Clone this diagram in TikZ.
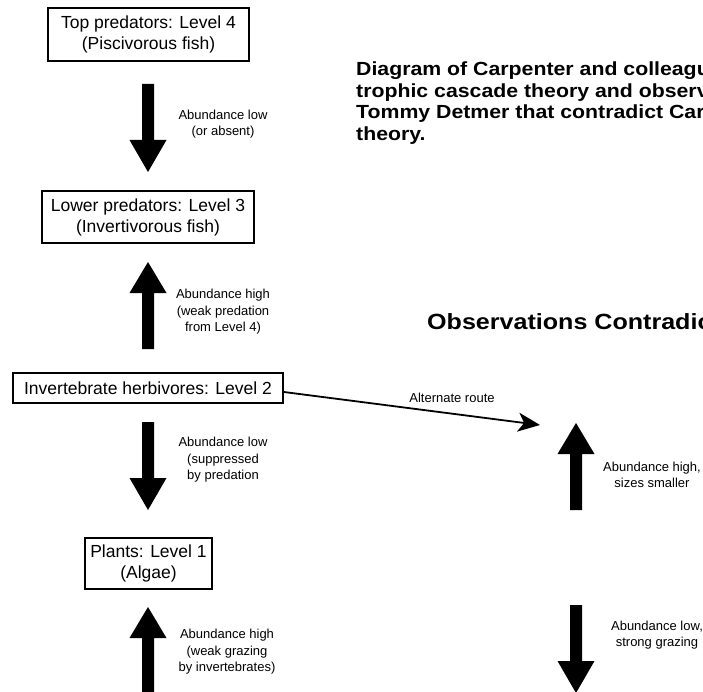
\documentclass[tikz,border=0pt]{standalone}
\usepackage{fontspec}
\setmainfont{Liberation Sans}
\newfontfamily\titlefont{Liberation Sans}[FakeStretch=1.12]
\newfontfamily\headfont{Liberation Sans}[FakeStretch=1.14]
\usetikzlibrary{arrows.meta}
\tikzset{
  levelbox/.style={draw, line width=1.7pt, inner sep=0pt, align=center,
    font=\fontsize{17.5}{21}\selectfont},
  lbl/.style={align=center, inner sep=0pt, font=\fontsize{13}{16.5}\selectfont},
  titletext/.style={align=left, inner sep=0pt, anchor=north west,
    font=\titlefont\bfseries\fontsize{19}{21.4}\selectfont},
  headtext/.style={inner sep=0pt, anchor=base west,
    font=\headfont\bfseries\fontsize{22}{26}\selectfont},
  routeline/.style={line width=1.8pt, -{Stealth[length=22pt,width=19pt,inset=6pt]}},
  blockarrow/.style={fill=black, draw=none},
}
% #1 centre x, #2 shaft end y, #3 tip y (y grows downward)
\newcommand{\blockdownarrow}[3]{%
  \fill[blockarrow] (#1-6,#2) -- (#1+6,#2) -- (#1+6,#3-32) -- (#1+18.5,#3-32)
    -- (#1,#3) -- (#1-18.5,#3-32) -- (#1-6,#3-32) -- cycle;}
\newcommand{\blockuparrow}[3]{%
  \fill[blockarrow] (#1-6,#2) -- (#1+6,#2) -- (#1+6,#3+31) -- (#1+18.5,#3+31)
    -- (#1,#3) -- (#1-18.5,#3+31) -- (#1-6,#3+31) -- cycle;}
\begin{document}
\begin{tikzpicture}[x=1pt, y=-1pt]
  \useasboundingbox (0,0) rectangle (703,692);
  \clip (0,0) rectangle (703,692);
  \fill[white] (0,0) rectangle (703,692);

  % level boxes
  \node[levelbox, minimum width=201pt, minimum height=53pt] (b4) at (148.5,34.5)
    {Top predators: Level 4\\(Piscivorous fish)};
  \node[levelbox, minimum width=212pt, minimum height=52pt] (b3) at (148,217)
    {Lower predators: Level 3\\(Invertivorous fish)};
  \node[levelbox, minimum width=270pt, minimum height=30pt] (b2) at (148,388)
    {Invertebrate herbivores: Level 2};
  \node[levelbox, minimum width=127pt, minimum height=51pt] (b1) at (148.5,563.5)
    {Plants: Level 1\\(Algae)};

  % block arrows (left column)
  \blockdownarrow{148}{84}{172}
  \blockuparrow{148}{349}{262}
  \blockdownarrow{148}{422}{510}
  \blockuparrow{148}{700}{607}

  % labels (left column)
  \node[lbl] (l1) at (223,124) {Abundance low\\(or absent)};
  \node[lbl] (l2) at (223,312) {Abundance high\\(weak predation\\from Level 4)};
  \node[lbl] (l3) at (223,460) {Abundance low\\(suppressed\\by predation};
  \node[lbl] (l4) at (227,652) {Abundance high\\(weak grazing\\by invertebrates)};

  % title and heading
  \node[titletext] (title) at (356,62)
    {Diagram of Carpenter and colleagues'\\trophic cascade theory and observations by\\Tommy Detmer that contradict Carpenter's\\theory.};
  \node[headtext] (obs) at (427,329) {Observations Contradicting Carpenter's Theory};

  % alternate route
  \coordinate (altend) at (540,425);
  \draw[routeline] ([yshift=-4pt]b2.east) -- (altend);
  \node[lbl] (altlbl) at (452,398) {Alternate route};

  % right column
  \blockuparrow{576}{510}{423}
  \blockdownarrow{576}{605}{693}
  \node[lbl] (r1) at (652,475) {Abundance high,\\sizes smaller};
  \node[lbl] (r2) at (657,635) {Abundance low,\\strong grazing};
\end{tikzpicture}
\end{document}
